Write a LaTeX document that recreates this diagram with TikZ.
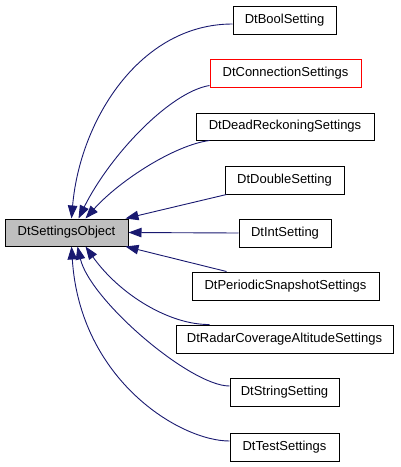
\documentclass[tikz,border=0pt]{standalone}
\usepackage{fontspec}
\setmainfont{Liberation Sans}
\usetikzlibrary{arrows.meta,calc}
\definecolor{edgeblue}{RGB}{25,25,112}
\definecolor{basegray}{RGB}{191,191,191}
\tikzset{
  cls/.style={draw=black, line width=1pt, fill=white, inner sep=0pt,
    minimum height=28pt, font=\fontsize{13}{15}\selectfont},
  edge/.style={draw=edgeblue, line width=0.9pt,
    -{Triangle[length=13pt,width=9.5pt]}, fill=none},
}
\begin{document}
\begin{tikzpicture}[x=1pt,y=-1pt]
\useasboundingbox (0,0) rectangle (400,467);
\node[cls, fill=basegray, minimum width=123pt, minimum height=27pt] (base) at (66.5,232.5) {DtSettingsObject};
\node[cls, minimum width=103pt] (bool) at (284.5,20) {DtBoolSetting};
\node[cls, draw=red, minimum width=151pt] (conn) at (285.5,73) {DtConnectionSettings};
\node[cls, minimum width=178pt, minimum height=27pt] (dead) at (285,126.5) {DtDeadReckoningSettings};
\node[cls, minimum width=119pt] (double) at (284.5,180) {DtDoubleSetting};
\node[cls, minimum width=92pt] (int) at (285,233) {DtIntSetting};
\node[cls, minimum width=187pt] (periodic) at (285.5,286) {DtPeriodicSnapshotSettings};
\node[cls, minimum width=217pt] (radar) at (284.5,339) {DtRadarCoverageAltitudeSettings};
\node[cls, minimum width=109pt] (string) at (284.5,392) {DtStringSetting};
\node[cls, minimum width=109pt] (test) at (284.5,447) {DtTestSettings};

\coordinate (tBool) at ($(base.north west)+(67,0)$);
\coordinate (tConn) at ($(base.north west)+(74,0)$);
\coordinate (tDead) at ($(base.north west)+(81,0)$);
\coordinate (tDouble) at ($(base.north west)+(121,0)$);
\coordinate (tPer) at ($(base.south west)+(121,0)$);
\coordinate (tRadar) at ($(base.south west)+(81,0)$);
\coordinate (tString) at ($(base.south west)+(73,0)$);
\coordinate (tTest) at ($(base.south west)+(67,0)$);

\draw[edge] ($(bool.west)+(0,4)$) .. controls (140,24) and (80,120) .. (tBool);
\draw[edge] ($(conn.south west)+(0,-2)$) .. controls (170,92) and (110,155) .. (tConn);
\draw[edge] ($(dead.south west)+(14,0)$) .. controls (175,145) and (120,180) .. (tDead);
\draw[edge] ($(double.south west)+(2,0)$) -- (tDouble);
\draw[edge] (int.west) -- (base.east);
\draw[edge] ($(periodic.north west)+(35,0)$) -- (tPer);
\draw[edge] ($(radar.north west)+(34,0)$) .. controls (170,325) and (120,295) .. (tRadar);
\draw[edge] ($(string.west)+(0,-6)$) .. controls (190,386) and (90,300) .. (tString);
\draw[edge] ($(test.west)+(0,-6)$) .. controls (180,441) and (80,380) .. (tTest);
\end{tikzpicture}
\end{document}
